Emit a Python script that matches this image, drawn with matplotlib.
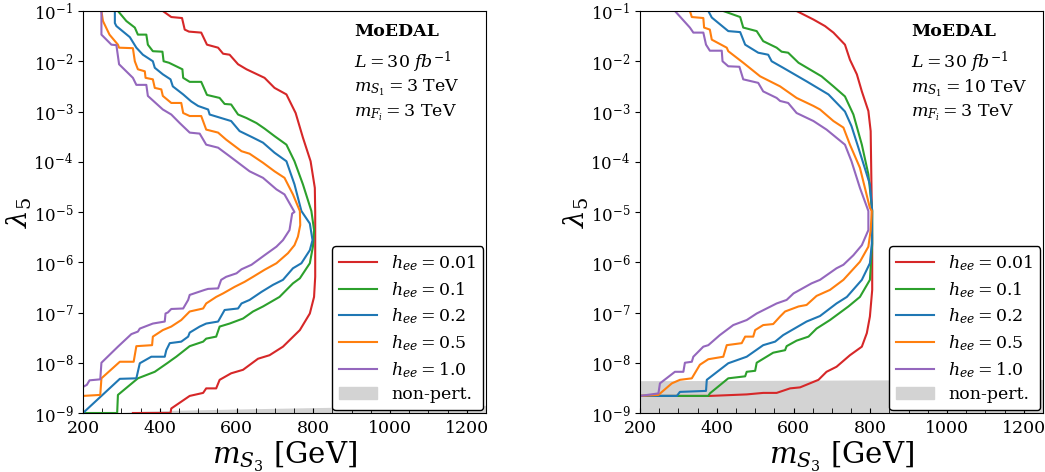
import matplotlib
matplotlib.use("Agg")
import matplotlib.pyplot as plt
import numpy as np
from matplotlib.ticker import MultipleLocator, NullLocator, FixedLocator

plt.rcParams['font.family'] = 'DejaVu Serif'
plt.rcParams['mathtext.fontset'] = 'dejavuserif'

# Data: contour lines (m_S3 in GeV, log10 lambda_5)
hee_labels = ['0.01', '0.1', '0.2', '0.5', '1.0']
colors = ['#d62728', '#2ca02c', '#1f77b4', '#ff7f0e', '#9467bd']

# left panel: m_S1 = 3 TeV
red_L_x = [408, 430, 458, 465, 476, 508, 523, 552, 565, 582, 604, 626, 673, 699, 730, 754, 773, 793, 804, 805,
           805, 802, 791, 765, 721, 686, 656, 617, 586, 556, 547, 521, 513, 478, 430, 428, 330]
red_L_y = [-1.00, -1.12, -1.14, -1.37, -1.41, -1.43, -1.67, -1.73, -1.85, -1.87, -2.06, -2.16, -2.33, -2.53, -2.66,
           -3.03, -3.52, -3.99, -4.52, -5.00, -6.29, -6.69, -7.02, -7.35, -7.68, -7.85, -7.92, -8.14, -8.21, -8.34,
           -8.51, -8.51, -8.60, -8.66, -8.91, -9.0, -9.0]

green_L_x = [291, 313, 335, 343, 365, 369, 382, 407, 410, 424, 459, 461, 478, 508, 523, 556, 569, 586, 604, 626,
             652, 673, 699, 730, 751, 773, 795, 802, 799, 791, 765, 747, 712, 669, 643, 617, 582, 556, 547, 521,
             513, 478, 443, 430, 421, 387, 343, 291, 289, 200]
green_L_y = [-1.00, -1.20, -1.33, -1.47, -1.47, -1.67, -1.80, -1.81, -2.00, -2.03, -2.16, -2.33, -2.41, -2.41, -2.67,
             -2.73, -2.85, -2.86, -3.06, -3.13, -3.23, -3.34, -3.49, -3.66, -3.99, -4.45, -4.98, -5.36, -5.69, -6.02,
             -6.32, -6.42, -6.69, -6.88, -6.98, -7.12, -7.22, -7.28, -7.48, -7.52, -7.58, -7.67, -7.88, -7.95, -8.00,
             -8.18, -8.31, -8.64, -9.0, -9.0]

blue_L_x = [283, 283, 287, 322, 339, 356, 382, 387, 408, 428, 434, 461, 482, 500, 526, 530, 573, 586, 608, 643,
            669, 699, 730, 751, 769, 791, 798, 791, 769, 747, 721, 695, 665, 634, 613, 604, 569, 552, 521, 504,
            478, 474, 456, 426, 417, 413, 378, 348, 339, 296, 200]
blue_L_y = [-1.00, -1.24, -1.30, -1.52, -1.73, -1.87, -2.00, -2.13, -2.26, -2.36, -2.50, -2.66, -2.80, -2.89, -2.96,
            -3.06, -3.16, -3.19, -3.39, -3.52, -3.62, -3.82, -3.99, -4.45, -4.98, -5.23, -5.56, -5.76, -6.02, -6.12,
            -6.35, -6.45, -6.59, -6.75, -6.82, -6.92, -6.95, -7.18, -7.22, -7.28, -7.40, -7.48, -7.58, -7.61, -7.75,
            -7.88, -7.88, -8.01, -8.31, -8.32, -9.0]

orange_L_x = [248, 252, 269, 291, 294, 330, 335, 343, 361, 363, 382, 387, 404, 408, 430, 456, 461, 478, 508, 521,
              552, 573, 613, 634, 669, 699, 725, 747, 765, 766, 760, 751, 734, 704, 673, 643, 621, 595, 565, 547,
              521, 513, 478, 456, 430, 408, 382, 380, 339, 332, 296, 248, 245, 200]
orange_L_y = [-1.00, -1.20, -1.47, -1.67, -1.73, -1.74, -2.00, -2.16, -2.20, -2.33, -2.36, -2.53, -2.56, -2.69, -2.83,
              -2.83, -3.03, -3.09, -3.09, -3.36, -3.42, -3.56, -3.79, -3.84, -4.02, -4.19, -4.32, -4.65, -4.98, -5.26,
              -5.49, -5.66, -5.82, -6.02, -6.15, -6.29, -6.39, -6.49, -6.62, -6.69, -6.82, -6.92, -6.98, -7.15, -7.28,
              -7.35, -7.48, -7.65, -7.67, -7.98, -7.98, -8.31, -8.64, -8.66]

purple_L_x = [248, 248, 274, 287, 294, 330, 339, 365, 369, 408, 430, 452, 478, 504, 521, 552, 582, 634, 669, 704,
              725, 751, 745, 738, 721, 704, 673, 639, 613, 600, 573, 560, 552, 526, 517, 478, 474, 461, 430, 421,
              415, 413, 382, 348, 343, 326, 291, 248, 245, 217, 210, 200]
purple_L_y = [-1.00, -1.47, -1.67, -1.68, -2.06, -2.33, -2.47, -2.47, -2.69, -2.96, -3.06, -3.23, -3.42, -3.44, -3.66,
              -3.72, -3.89, -4.19, -4.32, -4.55, -4.65, -5.00, -5.03, -5.36, -5.56, -5.69, -5.86, -6.05, -6.14, -6.22,
              -6.29, -6.35, -6.52, -6.53, -6.55, -6.65, -6.75, -6.92, -6.93, -7.00, -7.02, -7.18, -7.22, -7.32, -7.38,
              -7.43, -7.68, -8.00, -8.33, -8.35, -8.44, -8.48]

nonpert_L_x = [280, 350, 430, 600, 800, 1000, 1250]
nonpert_L_y = [1.0e-9, 1.08e-9, 1.13e-9, 1.2e-9, 1.28e-9, 1.35e-9, 1.42e-9]

# right panel: m_S1 = 10 TeV
red_R_x = [608, 652, 682, 704, 734, 747, 765, 778, 795, 801, 804, 805, 805, 799, 791, 778, 747, 712, 686, 665,
           617, 591, 556, 521, 478, 382, 200]
red_R_y = [-1.00, -1.17, -1.30, -1.43, -1.67, -1.97, -2.26, -2.60, -2.99, -3.39, -4.98, -5.5, -6.55, -7.08, -7.41,
           -7.68, -7.85, -8.08, -8.18, -8.34, -8.49, -8.51, -8.60, -8.60, -8.63, -8.66, -8.66]

green_R_x = [417, 461, 469, 504, 521, 556, 569, 586, 613, 673, 704, 734, 756, 778, 795, 805, 805, 799, 773, 743,
             695, 660, 639, 608, 582, 578, 547, 504, 500, 478, 474, 430, 382, 378, 200]
green_R_y = [-1.00, -1.12, -1.33, -1.40, -1.60, -1.73, -1.81, -1.83, -2.03, -2.30, -2.50, -2.70, -3.06, -3.66, -4.25,
             -4.98, -5.63, -6.35, -6.69, -6.88, -7.15, -7.32, -7.48, -7.56, -7.67, -7.75, -7.80, -8.00, -8.16, -8.18,
             -8.27, -8.31, -8.61, -8.66, -8.66]

blue_R_x = [378, 387, 430, 461, 474, 508, 534, 543, 573, 634, 691, 734, 751, 769, 799, 805, 804, 799, 778, 739,
            712, 669, 634, 573, 552, 521, 478, 430, 374, 372, 304, 296, 200]
blue_R_y = [-1.00, -1.13, -1.40, -1.42, -1.67, -1.83, -1.87, -2.00, -2.13, -2.40, -2.66, -3.00, -3.29, -3.72, -4.45,
            -4.98, -5.63, -6.02, -6.35, -6.69, -6.82, -7.07, -7.18, -7.45, -7.58, -7.65, -7.88, -8.01, -8.34, -8.56,
            -8.58, -8.66, -8.66]

orange_R_x = [330, 335, 365, 367, 382, 387, 426, 430, 469, 513, 565, 608, 652, 669, 704, 730, 747, 773, 799, 804,
              801, 795, 773, 730, 695, 660, 634, 613, 578, 565, 547, 521, 500, 495, 474, 465, 426, 417, 378, 356,
              335, 304, 283, 248, 200]
orange_R_y = [-1.00, -1.12, -1.14, -1.33, -1.37, -1.57, -1.73, -1.80, -2.03, -2.30, -2.50, -2.73, -2.89, -2.96, -3.19,
              -3.32, -3.66, -4.12, -4.92, -4.98, -5.36, -5.69, -5.99, -6.35, -6.55, -6.67, -6.85, -6.88, -6.98, -7.08,
              -7.23, -7.25, -7.35, -7.48, -7.48, -7.61, -7.65, -7.88, -7.93, -8.04, -8.31, -8.34, -8.41, -8.64, -8.66]

purple_R_x = [291, 330, 339, 365, 372, 382, 413, 415, 430, 459, 469, 508, 521, 556, 565, 586, 608, 652, 686, 734,
              751, 773, 795, 795, 778, 756, 730, 712, 669, 647, 600, 582, 556, 504, 478, 443, 408, 378, 365, 339,
              335, 317, 313, 291, 252, 248, 200]
purple_R_y = [-1.00, -1.33, -1.43, -1.43, -1.67, -1.79, -1.79, -2.00, -2.10, -2.11, -2.36, -2.43, -2.60, -2.73, -2.79,
              -2.83, -3.03, -3.19, -3.36, -3.66, -3.99, -4.52, -4.98, -5.36, -5.66, -5.86, -6.05, -6.12, -6.35, -6.42,
              -6.62, -6.75, -6.82, -7.02, -7.15, -7.25, -7.45, -7.65, -7.68, -7.88, -7.98, -8.00, -8.18, -8.18, -8.41,
              -8.61, -8.66]

nonpert_R_x = [200, 500, 800, 1000, 1250]
nonpert_R_y = [4.4e-9, 4.45e-9, 4.55e-9, 4.6e-9, 4.65e-9]

panels = [
    dict(curves=[(red_L_x, red_L_y), (green_L_x, green_L_y), (blue_L_x, blue_L_y),
                 (orange_L_x, orange_L_y), (purple_L_x, purple_L_y)],
         np_x=nonpert_L_x, np_y=nonpert_L_y, ms1='3'),
    dict(curves=[(red_R_x, red_R_y), (green_R_x, green_R_y), (blue_R_x, blue_R_y),
                 (orange_R_x, orange_R_y), (purple_R_x, purple_R_y)],
         np_x=nonpert_R_x, np_y=nonpert_R_y, ms1='10'),
]

fig = plt.figure(figsize=(10.45, 4.72), dpi=100)
lefts = [83 / 1045, 640 / 1045]

for left, p in zip(lefts, panels):
    ax = fig.add_axes([left, 59 / 472, 403 / 1045, 402 / 472])
    ax.fill_between(p['np_x'], 1e-9, p['np_y'], color='lightgray', lw=0, zorder=1)
    for (xs, ys), c, lab in zip(p['curves'], colors, hee_labels):
        ax.plot(xs, 10.0 ** np.array(ys), color=c, lw=1.5, zorder=2,
                label=r'$h_{ee} = %s$' % lab)
    ax.fill_between([], [], color='lightgray', label='non-pert.')

    ax.set_yscale('log')
    ax.set_xlim(200, 1250)
    ax.set_ylim(1e-9, 1e-1)
    ax.yaxis.set_major_locator(FixedLocator([10.0 ** k for k in range(-9, 0)]))
    ax.yaxis.set_minor_locator(NullLocator())
    ax.xaxis.set_major_locator(MultipleLocator(200))
    ax.xaxis.set_minor_locator(MultipleLocator(50))
    ax.tick_params(axis='x', which='both', direction='in', length=3.5, labelsize=12.5, pad=5)
    ax.tick_params(axis='y', which='major', direction='out', length=3.5, labelsize=12)

    ax.set_xlabel(r'$m_{S_3}$ [GeV]', fontsize=21, labelpad=2)
    ax.set_ylabel(r'$\lambda_5$', fontsize=20)
    ax.yaxis.set_label_coords(-0.122, 0.5)

    ax.text(0.672, 0.948, 'MoEDAL', transform=ax.transAxes, fontsize=12.5,
            fontweight='bold', va='center', ha='left')
    ax.text(0.672, 0.873, r'$L = 30\ fb^{-1}$', transform=ax.transAxes, fontsize=12.5,
            va='center', ha='left')
    ax.text(0.672, 0.808, r'$m_{S_1} = %s$ TeV' % p['ms1'], transform=ax.transAxes,
            fontsize=12.5, va='center', ha='left')
    ax.text(0.672, 0.746, r'$m_{F_i} = 3$ TeV', transform=ax.transAxes, fontsize=12.5,
            va='center', ha='left')

    leg = ax.legend(loc='lower right', fontsize=12.5, framealpha=1, edgecolor='black',
                    borderaxespad=0.15, handlelength=2.2, labelspacing=0.4)
    leg.get_frame().set_linewidth(1.0)

fig.savefig('out.png', dpi=100)
